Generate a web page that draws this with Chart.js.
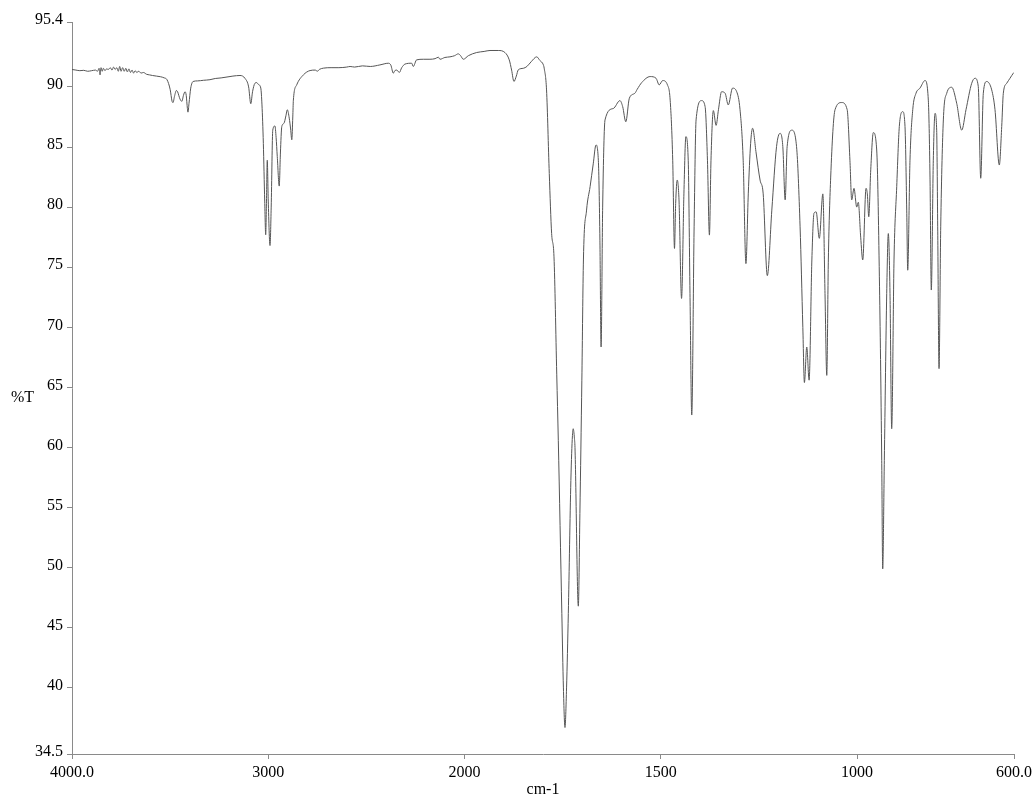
<!DOCTYPE html>
<html>
<head>
<meta charset="utf-8">
<script src="https://cdn.jsdelivr.net/npm/chart.js@4"></script>
<style>
  html, body { margin: 0; padding: 0; background: #fff; }
  #wrap { width: 1034px; height: 799px; }
</style>
</head>
<body>
<div id="wrap"><canvas id="chart" width="1034" height="799"></canvas></div>
<script>
// IR spectrum, wavenumber (cm-1) vs transmittance (%T)
const wavenumbers = [
  4000, 3980, 3960, 3940, 3920, 3900, 3880, 3870, 3862, 3857, 3852, 3846, 3840, 3832, 3824, 3815,
  3805, 3796, 3788, 3780, 3772, 3764, 3757, 3750, 3742, 3734, 3726, 3718, 3710, 3702, 3694, 3686,
  3678, 3670, 3660, 3648, 3636, 3620, 3605, 3590, 3570, 3550, 3530, 3516, 3500, 3490, 3485, 3478,
  3468, 3462, 3450, 3440, 3432, 3424, 3418, 3412, 3409, 3404, 3395, 3383, 3360, 3330, 3297, 3270,
  3240, 3200, 3180, 3144, 3118, 3100, 3089, 3080, 3068, 3059, 3050, 3038, 3032, 3025, 3018, 3013,
  3009, 3005, 3000, 2991, 2985, 2977, 2966, 2960, 2954, 2944, 2938, 2931, 2920, 2910, 2903, 2893,
  2886, 2880, 2875, 2872, 2855, 2821, 2787, 2760, 2750, 2740, 2719, 2680, 2640, 2600, 2583, 2560,
  2520, 2480, 2431, 2388, 2375, 2363, 2355, 2345, 2332, 2320, 2303, 2269, 2261, 2244, 2210, 2176,
  2150, 2133, 2125, 2100, 2074, 2050, 2032, 2020, 2006, 1990, 1969, 1950, 1935, 1914, 1897, 1886,
  1880, 1874, 1868, 1863, 1850, 1841, 1830, 1816, 1808, 1799, 1797, 1791, 1784, 1778, 1772, 1765,
  1761, 1752, 1748, 1744, 1740, 1735.5, 1729, 1725, 1723, 1720, 1718.5, 1710, 1706, 1701, 1697, 1689,
  1680, 1672, 1665, 1659, 1655, 1652, 1648, 1642, 1621, 1604, 1597, 1589, 1580, 1566, 1560, 1548.5,
  1527, 1512, 1504, 1495, 1483, 1476, 1469.5, 1465, 1462, 1458, 1453.5, 1447, 1441, 1436, 1430, 1425.5,
  1421, 1415, 1410, 1396, 1387, 1381, 1376, 1372, 1366, 1359, 1353, 1345, 1336, 1328, 1317, 1306.5,
  1298, 1290, 1283, 1277, 1271, 1266, 1257, 1247, 1239, 1228.5, 1217, 1205, 1196, 1189, 1183, 1178,
  1166, 1154, 1145, 1138, 1134, 1128, 1122, 1115, 1109.5, 1104, 1096, 1087, 1081.5, 1077, 1073, 1067,
  1056, 1039, 1025, 1018, 1013.5, 1007.6, 1000.7, 996.7, 990.6, 985.4, 977, 973.7, 970, 965, 958.4, 949.8,
  943, 937, 934.5, 930.4, 924.3, 920.2, 915.9, 911.6, 905.7, 898.8, 892.2, 883.5, 877.7, 873.3, 870.8, 865,
  858, 849.7, 839.5, 826.7, 818.3, 814, 810.7, 805.6, 801.2, 797, 794.4, 791, 786.7, 780, 771.4, 758.7,
  746, 733.2, 722.3, 707.8, 699.3, 691, 684.8, 678.2, 669.5, 656.8, 648.4, 637.4, 631.3, 627.2, 618.6, 610.2,
  601.7, 600
];
const transmittance = [
  91.45, 91.4, 91.35, 91.38, 91.3, 91.35, 91.4, 91.3, 91.55, 91.0, 91.6, 91.3, 91.55, 91.35, 91.5, 91.45,
  91.6, 91.4, 91.65, 91.45, 91.6, 91.3, 91.7, 91.3, 91.6, 91.3, 91.55, 91.25, 91.5, 91.2, 91.4, 91.15,
  91.35, 91.2, 91.3, 91.15, 91.2, 91.05, 91.0, 90.95, 90.9, 90.85, 90.75, 90.6, 89.8, 88.8, 88.7, 89.2,
  89.7, 89.6, 89.0, 88.8, 89.3, 89.6, 89.3, 88.2, 87.9, 88.6, 89.9, 90.45, 90.5, 90.55, 90.6, 90.7,
  90.75, 90.85, 90.9, 90.95, 90.7, 90.0, 88.6, 89.6, 90.3, 90.36, 90.2, 89.9, 88.5, 85.3, 80.5, 77.7,
  80.5, 83.9, 80.5, 76.8, 80.0, 86.4, 86.75, 85.8, 84.2, 81.75, 84.5, 86.7, 86.97, 87.6, 88.1, 87.4,
  86.5, 85.6, 87.5, 88.9, 90.17, 91.0, 91.36, 91.4, 91.3, 91.45, 91.56, 91.6, 91.6, 91.65, 91.7, 91.65,
  91.75, 91.7, 91.83, 91.97, 91.8, 91.14, 91.35, 91.4, 91.2, 91.6, 91.9, 91.97, 91.7, 92.25, 92.3, 92.3,
  92.35, 92.47, 92.3, 92.45, 92.5, 92.6, 92.75, 92.6, 92.3, 92.6, 92.86, 92.95, 93.03, 93.03, 92.86, 92.25,
  91.4, 90.45, 90.9, 91.42, 91.55, 91.7, 92.1, 92.5, 92.2, 91.83, 91.56, 89.75, 82.8, 77.8, 75.86, 66.1,
  60.6, 46.2, 40.0, 36.7, 40.0, 46.2, 57.25, 61.0, 61.56, 60.8, 60.0, 46.8, 54.5, 65.6, 75.6, 79.75,
  81.7, 83.6, 85.17, 83.9, 77.25, 68.36, 80.0, 87.25, 88.2, 88.86, 88.36, 87.1, 89.06, 89.47, 89.8, 90.36,
  90.86, 90.72, 90.17, 90.53, 90.17, 88.9, 83.9, 76.56, 80.3, 82.25, 80.6, 72.4, 81.1, 85.86, 83.9, 72.8,
  62.7, 78.36, 87.25, 88.86, 88.36, 83.9, 77.67, 83.9, 88.03, 86.8, 88.1, 89.6, 89.47, 88.5, 89.9, 89.6,
  88.1, 83.9, 75.3, 81.1, 85.3, 86.56, 84.5, 82.25, 81.1, 74.3, 79.75, 85.03, 86.14, 85.03, 80.6, 85.03,
  86.4, 85.03, 78.36, 70.0, 65.4, 68.36, 65.6, 75.6, 79.5, 79.6, 77.4, 81.1, 72.8, 66.0, 75.6, 82.5,
  88.1, 88.7, 88.1, 83.9, 80.6, 81.56, 80.0, 80.4, 77.5, 75.6, 81.56, 81.1, 79.2, 83.1, 86.2, 84.75,
  74.2, 58.9, 49.9, 58.9, 72.8, 77.8, 72.8, 61.56, 75.6, 81.7, 86.7, 87.94, 86.7, 79.75, 74.75, 83.9,
  88.1, 89.47, 89.9, 90.53, 88.9, 82.5, 73.1, 83.9, 87.8, 86.4, 78.36, 66.56, 78.36, 87.25, 89.47, 89.97,
  88.64, 86.4, 88.1, 90.3, 90.72, 90.03, 82.4, 89.47, 90.45, 89.75, 88.1, 83.5, 86.7, 89.47, 90.3, 90.72,
  91.14, 91.2
];

const xTickValues = [4000, 3000, 2000, 1500, 1000, 600];
const xTickLabels = ['4000.0', '3000', '2000', '1500', '1000', '600.0'];
const yTickValues = [95.4, 90, 85, 80, 75, 70, 65, 60, 55, 50, 45, 40, 34.5];
const yTickLabels = ['95.4', '90', '85', '80', '75', '70', '65', '60', '55', '50', '45', '40', '34.5'];

// the x axis is expanded 2x below 2000 cm-1
function axisPos(wn) {
  return wn >= 2000 ? 4000 - wn : 2000 + 2 * (2000 - wn);
}

const points = wavenumbers.map((w, i) => ({ x: axisPos(w), y: transmittance[i] }));
const serif = 'Liberation Serif, "Times New Roman", serif';
const axisGray = '#8a8a8a';

const yLabel = {
  id: 'yLabel',
  afterDraw(chart) {
    const c = chart.ctx;
    c.save();
    c.font = '16px ' + serif;
    c.fillStyle = '#000';
    c.textBaseline = 'middle';
    c.fillText('%T', 11, 398);
    c.restore();
  }
};

new Chart(document.getElementById('chart'), {
  type: 'line',
  data: {
    datasets: [{
      data: points,
      borderColor: '#555',
      borderWidth: 1,
      pointRadius: 0,
      cubicInterpolationMode: 'monotone',
      fill: false
    }]
  },
  options: {
    responsive: false,
    animation: false,
    layout: { padding: { top: 22, right: 20, left: 0, bottom: 0 } },
    plugins: { legend: { display: false }, tooltip: { enabled: false } },
    scales: {
      x: {
        type: 'linear',
        min: 0,
        max: axisPos(600),
        afterFit(scale) {
          scale.height = 45;
          scale.paddingLeft = 0;
          scale.paddingRight = 0;
        },
        afterBuildTicks(scale) {
          scale.ticks = xTickValues.map(v => ({ value: axisPos(v) }));
        },
        border: { display: true, color: axisGray, width: 1 },
        grid: { display: true, drawOnChartArea: false, drawTicks: true, tickLength: 5, color: axisGray },
        ticks: {
          color: '#000',
          font: { family: serif, size: 16 },
          padding: 4,
          maxRotation: 0,
          autoSkip: false,
          callback: (v, i) => xTickLabels[i]
        },
        title: {
          display: true,
          text: 'cm-1',
          color: '#000',
          font: { family: serif, size: 16 },
          padding: { top: 0, bottom: 0 }
        }
      },
      y: {
        min: 34.5,
        max: 95.4,
        afterFit(scale) {
          scale.width = 72;
          scale.paddingTop = 0;
          scale.paddingBottom = 0;
        },
        afterBuildTicks(scale) {
          scale.ticks = yTickValues.map(v => ({ value: v }));
        },
        border: { display: true, color: axisGray, width: 1 },
        grid: { display: true, drawOnChartArea: false, drawTicks: true, tickLength: 5, color: axisGray },
        ticks: {
          color: '#000',
          font: { family: serif, size: 16 },
          padding: 4,
          labelOffset: -2,
          autoSkip: false,
          callback: (v, i) => yTickLabels[i]
        }
      }
    }
  },
  plugins: [yLabel]
});
</script>
</body>
</html>
